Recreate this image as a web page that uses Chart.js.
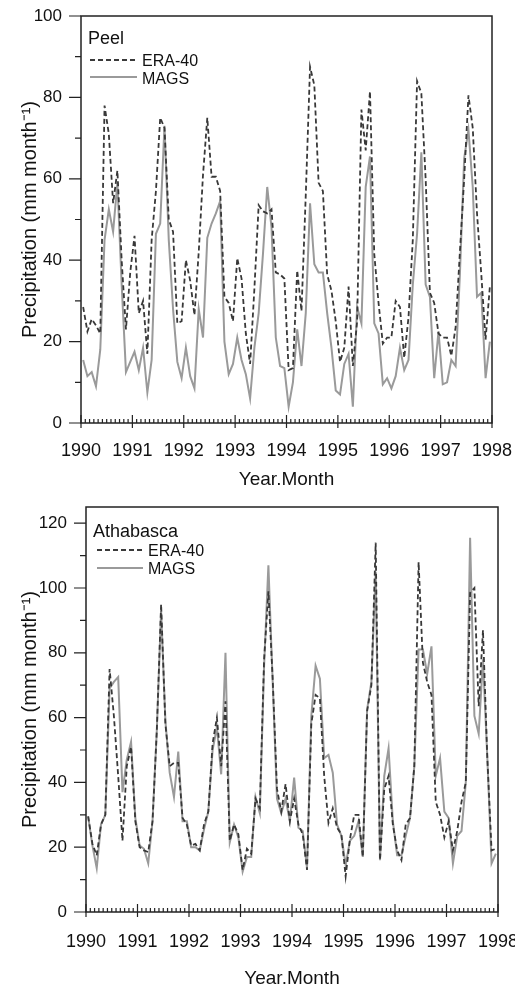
<!DOCTYPE html>
<html>
<head>
<meta charset="utf-8">
<script src="https://cdn.jsdelivr.net/npm/chart.js@4.4.0/dist/chart.umd.min.js"></script>
<style>
  html, body { margin: 0; padding: 0; background: #fff; overflow: hidden; }
  body { width: 515px; height: 987px; position: relative; font-family: 'Liberation Sans', Arial, sans-serif; color: #111; }
  .panel { position: absolute; left: 0; }
  .lbl { position: absolute; line-height: 1; white-space: nowrap; }
  .key { position: absolute; }
</style>
</head>
<body>
<div class="panel" style="top:0;width:515px;height:495px"><canvas id="peel" width="515" height="495"></canvas></div>
<div class="panel" style="top:495px;width:540px;height:505px"><canvas id="atha" width="540" height="505"></canvas></div>

<!-- legends -->
<div class="lbl" style="left:88px;top:29px;font-size:18px">Peel</div>
<svg class="key" style="left:90px;top:55px" width="48" height="10"><line x1="0" y1="5" x2="47" y2="5" stroke="#3a3a3a" stroke-width="2" stroke-dasharray="5 3"/></svg>
<div class="lbl" style="left:142px;top:53px;font-size:16px">ERA-40</div>
<svg class="key" style="left:90px;top:72px" width="48" height="10"><line x1="0" y1="5" x2="47" y2="5" stroke="#9a9a9a" stroke-width="2"/></svg>
<div class="lbl" style="left:142px;top:71px;font-size:16px">MAGS</div>

<div class="lbl" style="left:93px;top:522px;font-size:18px">Athabasca</div>
<svg class="key" style="left:97px;top:545px" width="48" height="10"><line x1="0" y1="5" x2="46" y2="5" stroke="#3a3a3a" stroke-width="2" stroke-dasharray="5 3"/></svg>
<div class="lbl" style="left:148px;top:543px;font-size:16px">ERA-40</div>
<svg class="key" style="left:97px;top:563px" width="48" height="10"><line x1="0" y1="5" x2="46" y2="5" stroke="#9a9a9a" stroke-width="2"/></svg>
<div class="lbl" style="left:148px;top:561px;font-size:16px">MAGS</div>

<script>
// monthly series, Jan 1990 .. Dec 1997
const years = [1990, 1991, 1992, 1993, 1994, 1995, 1996, 1997, 1998];
const nMonths = 96;

const peelERA = [
  28.5, 22.5, 25.5, 24, 22, 78, 71, 54, 62, 40, 23, 37,
  46, 27, 30, 17, 45, 57, 75, 72.5, 50, 47, 24.5, 25,
  40, 35, 26.5, 42, 61, 75, 60.5, 60.5, 57, 31, 29.5, 25,
  40.5, 35.5, 22, 14.5, 33, 53.5, 52, 51.5, 52.5, 37, 36.5, 35.5,
  13, 13.5, 37.5, 27.5, 56, 87.5, 83, 59, 57, 36.5, 32.5, 25,
  15, 18.5, 33.5, 14, 25, 77, 67, 81.5, 41.5, 29.5, 19.5, 21,
  21, 30, 28.5, 16, 26, 45, 84, 81, 60, 32, 29.5, 22,
  21, 21, 16.5, 23.5, 42, 60, 80.5, 72.5, 51.5, 36.5, 20.5, 33.5
];
const peelMAGS = [
  15.5, 11.5, 12.5, 9, 18, 45, 52.5, 47, 59, 34, 12.5, 15,
  17.5, 13, 18.5, 7.5, 15.5, 46.5, 49, 73, 45, 28, 15, 11,
  18.5, 11.5, 8.5, 28, 21, 45.5, 49, 51.5, 54.5, 20, 12, 14.5,
  21, 15.5, 12, 6, 18.5, 27, 41.5, 58, 48, 21, 14, 13.5,
  4, 10, 23, 14, 27, 54, 39, 37, 37, 27, 18.5, 8,
  7, 14.5, 17, 4, 28.5, 24.5, 58, 65.5, 24.5, 22, 9.5, 11,
  8.5, 11.5, 18.5, 13, 15.5, 34, 46.5, 66.5, 34, 31, 11, 22.5,
  9.5, 10, 15.5, 14, 36.5, 65, 72, 58, 31, 32, 11, 20
];
const athaERA = [
  29.5, 21, 17.5, 27, 30, 75, 60.5, 42, 22, 45, 51, 28,
  20, 19, 18.5, 28, 56, 95, 58, 45, 46, 46, 29, 27,
  20.5, 21, 19, 27, 31, 52, 60, 45, 65, 22, 27, 24,
  13, 19.5, 18, 35, 32, 78, 99, 72, 38, 31, 39.5, 28,
  35, 27, 24, 13, 58, 67, 66, 42, 27.5, 32, 26, 24,
  11, 22.5, 30, 30, 17, 62, 70, 114, 16, 38, 42, 27,
  19, 16, 27, 29, 45, 108, 77, 71, 67, 34, 30, 23,
  28, 19, 25, 34, 40, 98.5, 100, 63.5, 87, 48, 19, 19.5
];
const athaMAGS = [
  29.5, 20.5, 13.5, 27, 30, 69, 71, 72.5, 37, 47, 52.5, 29,
  20.5, 19.5, 15, 28, 56, 93, 59, 43, 35.5, 49.5, 28, 28,
  20, 20, 19, 25.5, 31, 50, 57, 42.5, 80, 21.5, 27, 23,
  12.5, 17, 17, 35.5, 30.5, 76, 107, 71, 35, 30.5, 35, 28,
  41.5, 26, 25, 13.5, 60.5, 76, 72, 47.5, 48.5, 43, 27, 23.5,
  14.5, 22, 23.5, 28, 17, 62.5, 71, 105, 16, 42, 50.5, 28,
  17.5, 17.5, 23.5, 29, 45, 81, 81, 73.5, 82, 42, 47.5, 31,
  29, 15, 23.5, 25, 40, 115.5, 60.5, 55, 78, 48, 15, 18
];

const peelTicks = [0, 10, 20, 30, 40, 50, 60, 70, 80, 90, 100];
const peelLabels = [0, 20, 40, 60, 80, 100];
const athaTicks = [0, 10, 20, 30, 40, 50, 60, 70, 80, 90, 100, 110, 120];
const athaLabels = [0, 20, 40, 60, 80, 100, 120];

// mid-month position on the year axis
const monthX = [];
for (let i = 0; i < nMonths; i++) monthX.push(years[0] + (i + 0.5) / 12);
const pts = vals => vals.map((v, i) => ({ x: monthX[i], y: v }));

const FONT = "'Liberation Sans', Arial, sans-serif";

// box frame, month ticks on the x axis, minor/major ticks on the y axis
const frameTicks = {
  id: 'frameTicks',
  afterDatasetsDraw(chart) {
    const { ctx, chartArea: a, scales: { x, y } } = chart;
    const labels = chart.options.plugins.frameTicks.labels;
    ctx.save();
    ctx.strokeStyle = '#222';
    ctx.lineWidth = 1.5;
    ctx.strokeRect(a.left, a.top, a.right - a.left, a.bottom - a.top);
    ctx.lineWidth = 1.2;
    ctx.beginPath();
    for (let i = 0; i <= nMonths; i++) {
      const px = x.getPixelForValue(years[0] + i / 12);
      const major = i % 12 === 0;
      ctx.moveTo(px, a.bottom + (major ? 5 : 0));
      ctx.lineTo(px, a.bottom - (major ? 8 : 4));
    }
    y.ticks.forEach(t => {
      const py = y.getPixelForValue(t.value);
      ctx.moveTo(a.left, py);
      ctx.lineTo(a.left - (labels.includes(t.value) ? 12 : 6), py);
    });
    ctx.stroke();
    ctx.restore();
  }
};

// label offsets go through grid.tickLength (ticks are not drawn, grid hidden)
// so that ticks.padding does not inflate the layout padding
function makeChart(id, era, mags, yMax, yTicks, yLabels, geo) {
  return new Chart(document.getElementById(id), {
    type: 'line',
    data: {
      datasets: [
        { label: 'ERA-40', data: pts(era), borderColor: '#383838', borderWidth: 1.8, borderDash: [5, 3], pointRadius: 0, tension: 0, fill: false },
        { label: 'MAGS', data: pts(mags), borderColor: '#9a9a9a', borderWidth: 2, pointRadius: 0, tension: 0, fill: false }
      ]
    },
    options: {
      responsive: false,
      animation: false,
      layout: { padding: { left: 0, top: geo.top, right: geo.right, bottom: 0 } },
      plugins: { legend: { display: false }, tooltip: { enabled: false }, frameTicks: { labels: yLabels } },
      scales: {
        x: {
          type: 'linear', min: years[0], max: years[years.length - 1],
          afterBuildTicks: s => { s.ticks = years.map(v => ({ value: v })); },
          afterFit: s => { s.height = geo.xh; },
          grid: { display: false, drawTicks: true, tickLength: geo.xpad },
          border: { display: false },
          ticks: { color: '#111', font: { family: FONT, size: 18 }, padding: 0, maxRotation: 0, autoSkip: false, callback: v => String(v) },
          title: { display: true, text: 'Year.Month', color: '#111', font: { family: FONT, size: 19 }, padding: { top: 0, bottom: geo.tpad } }
        },
        y: {
          min: 0, max: yMax,
          afterBuildTicks: s => { s.ticks = yTicks.map(v => ({ value: v })); },
          afterFit: s => { s.width = geo.yw; },
          grid: { display: false, drawTicks: true, tickLength: 19 },
          border: { display: false },
          ticks: { color: '#111', font: { family: FONT, size: 17 }, padding: 0, autoSkip: false, callback: v => yLabels.includes(v) ? String(v) : '' },
          title: { display: true, text: 'Precipitation (mm month\u207B\u00B9)', color: '#111', font: { family: FONT, size: 20 }, padding: { top: 18, bottom: 0 } }
        }
      }
    },
    plugins: [frameTicks]
  });
}

makeChart('peel', peelERA, peelMAGS, 100, peelTicks, peelLabels,
  { top: 16, right: 23, xh: 72, yw: 81, xpad: 17, tpad: 4 });
makeChart('atha', athaERA, athaMAGS, 125, athaTicks, athaLabels,
  { top: 12, right: 42, xh: 88, yw: 86, xpad: 19, tpad: 10 });
</script>
</body>
</html>
